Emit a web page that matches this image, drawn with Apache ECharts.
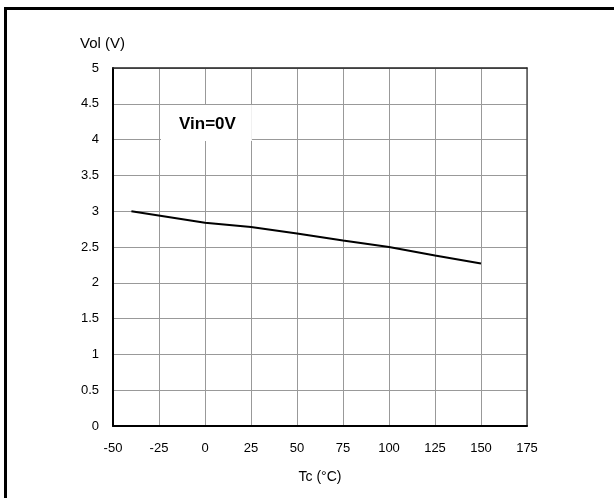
<!DOCTYPE html>
<html>
<head>
<meta charset="utf-8">
<script src="https://cdn.jsdelivr.net/npm/echarts@6/dist/echarts.min.js"></script>
<style>
html,body{margin:0;padding:0;background:#fff;}
#chart{width:614px;height:498px;}
</style>
</head>
<body>
<div id="chart"></div>
<script>
const temps = [-40, 0, 25, 50, 75, 100, 125, 150];
const vol = [3.0, 2.84, 2.78, 2.69, 2.59, 2.5, 2.38, 2.27];
const xTitle = 'Tc (°C)';
const yTitle = 'Vol (V)';
const note = 'Vin=0V';

const FONT = 'Arial, "Liberation Sans", sans-serif';
const chart = echarts.init(document.getElementById('chart'), null, {renderer: 'canvas'});
chart.setOption({
  animation: false,
  backgroundColor: '#fff',
  grid: {left: 113, top: 68, width: 414, height: 358},
  xAxis: [{
    type: 'value', min: -50, max: 175, interval: 25,
    axisLine: {show: true, onZero: false, lineStyle: {color: '#000', width: 2}},
    axisTick: {show: false},
    axisLabel: {color: '#000', fontSize: 13, fontFamily: FONT, margin: 16},
    splitLine: {show: true, lineStyle: {color: '#999', width: 1}},
    name: xTitle, nameLocation: 'middle', nameGap: 44,
    nameTextStyle: {color: '#000', fontSize: 14, fontFamily: FONT}
  }, {
    type: 'value', position: 'top', min: -50, max: 175, interval: 25,
    axisLine: {show: true, onZero: false, lineStyle: {color: '#222', width: 1.5}},
    axisTick: {show: false}, axisLabel: {show: false}, splitLine: {show: false}
  }],
  yAxis: [{
    type: 'value', min: 0, max: 5, interval: 0.5,
    axisLine: {show: true, onZero: false, lineStyle: {color: '#000', width: 2}},
    axisTick: {show: false},
    axisLabel: {color: '#000', fontSize: 13, fontFamily: FONT, margin: 14},
    splitLine: {show: true, lineStyle: {color: '#999', width: 1}}
  }, {
    type: 'value', position: 'right', min: 0, max: 5, interval: 0.5,
    axisLine: {show: true, onZero: false, lineStyle: {color: '#555', width: 1.5}},
    axisTick: {show: false}, axisLabel: {show: false}, splitLine: {show: false}
  }],
  series: [{
    type: 'line',
    data: temps.map((t, i) => [t, vol[i]]),
    showSymbol: false, symbol: 'none',
    lineStyle: {color: '#000', width: 2},
    z: 5
  }],
  graphic: [
    {type: 'rect', left: 3, top: 6, z: 0,
     shape: {x: 0, y: 0, width: 700, height: 600},
     style: {fill: 'none', stroke: '#000', lineWidth: 3}},
    {type: 'text', left: 80, top: 36,
     style: {text: yTitle, fill: '#000', font: '15px ' + FONT}},
    {type: 'text', left: 161, top: 105, z: 10,
     style: {text: note, fill: '#000', font: 'bold 17px ' + FONT,
             backgroundColor: '#fff', padding: [11, 16, 8, 18]}}
  ]
});
</script>
</body>
</html>
